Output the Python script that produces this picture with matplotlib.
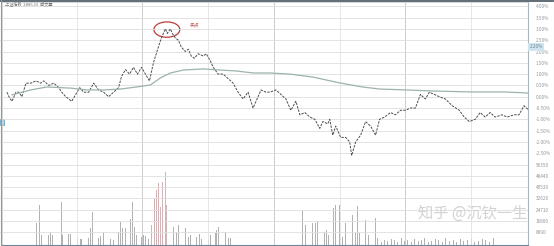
import matplotlib
matplotlib.use("Agg")
import matplotlib.pyplot as plt
import matplotlib.transforms as mtransforms
from matplotlib.patches import Ellipse, Rectangle
from matplotlib.lines import Line2D

plt.rcParams['font.family'] = ['Noto Sans CJK SC', 'DejaVu Sans']

# intraday price (dashed line)
t_price = [3, 5, 8, 12, 15, 18, 22, 27, 32, 37, 40, 45, 50, 55, 58, 62, 68, 72, 76, 80,
           85, 90, 95, 100, 105, 110, 115, 118, 122, 126, 130, 134, 138, 142, 146, 150, 155, 158, 162, 164,
           167, 169, 172, 175, 178, 182, 185, 188, 191, 195, 200, 203, 207, 210, 215, 220, 225, 230, 235, 240,
           245, 250, 255, 258, 263, 267, 273, 278, 283, 288, 293, 297, 302, 307, 312, 317, 320, 325, 327, 330,
           333, 338, 343, 347, 349, 353, 358, 363, 368, 373, 377, 382, 388, 393, 398, 403, 408, 413, 418, 423,
           427, 432, 437, 443, 450, 457, 462, 467, 473, 478, 483, 488, 493, 500, 505, 512, 517, 522, 527]
price = [10.02, 10.00, 9.98, 10.02, 10.02, 10.00, 10.06, 10.06, 10.07, 10.06, 10.07, 10.05, 10.06, 10.04, 10.02, 10.00, 9.98, 10.01, 10.04, 10.02,
         10.02, 10.06, 10.03, 10.02, 10.00, 10.02, 10.04, 10.09, 10.12, 10.10, 10.13, 10.10, 10.13, 10.10, 10.07, 10.15, 10.22, 10.26, 10.30, 10.28,
         10.30, 10.28, 10.26, 10.25, 10.22, 10.20, 10.21, 10.18, 10.17, 10.19, 10.18, 10.19, 10.16, 10.13, 10.10, 10.10, 10.08, 10.06, 10.02, 9.99,
         10.02, 9.95, 10.00, 10.03, 10.02, 10.02, 10.03, 10.01, 9.99, 9.94, 9.98, 9.92, 9.93, 9.91, 9.90, 9.86, 9.89, 9.88, 9.90, 9.83,
         9.87, 9.82, 9.82, 9.80, 9.74, 9.80, 9.83, 9.89, 9.87, 9.83, 9.90, 9.91, 9.93, 9.92, 9.94, 9.94, 9.95, 9.95, 10.01, 9.99,
         10.02, 10.01, 10.00, 9.99, 9.96, 9.94, 9.91, 9.89, 9.90, 9.93, 9.91, 9.93, 9.91, 9.92, 9.91, 9.92, 9.92, 9.96, 9.94]

# average price line
t_avg = [8, 27, 43, 67, 83, 100, 117, 133, 147, 157, 167, 180, 200, 217, 233, 250, 267, 287,
         310, 337, 360, 377, 403, 433, 470, 503, 527]
avg_price = [10.008, 10.030, 10.043, 10.038, 10.030, 10.030, 10.034, 10.043, 10.052, 10.083, 10.105, 10.118,
             10.123, 10.118, 10.114, 10.105, 10.105, 10.100, 10.087, 10.061, 10.043, 10.034, 10.030, 10.025,
             10.021, 10.021, 10.016]

# volume bars
t_vol = [4, 12, 13, 16, 23, 24, 27, 33, 36, 38, 45, 47, 49, 58, 59, 65, 67, 74, 77, 78,
         85, 87, 89, 95, 97, 100, 107, 110, 115, 117, 119, 122, 127, 129, 131, 133, 138, 140, 142, 145,
         148, 151, 153, 155, 157, 159, 162, 163, 170, 173, 175, 182, 185, 187, 193, 196, 198, 205, 207, 212,
         213, 215, 222, 225, 227, 233, 236, 238, 243, 247, 248, 255, 257, 259, 262, 267, 271, 277, 282, 288,
         292, 300, 303, 310, 313, 315, 322, 324, 326, 331, 333, 337, 340, 343, 350, 353, 355, 357, 363, 366,
         373, 375, 379, 382, 385, 389, 392, 395, 399, 402, 405, 409, 412, 416, 419, 422, 426, 429, 433, 436,
         440, 443, 447, 451, 454, 458, 461, 465, 469, 472, 476, 480, 483, 487, 491, 494, 498, 502, 505, 509,
         513, 516, 520, 524]
volume = [25900, 15400, 9100, 8400, 8400, 16100, 36400, 15400, 28000, 7000, 7000, 9100, 7000, 30100, 7000, 7700, 7700, 4900, 4200, 4200,
          4900, 11900, 23100, 4900, 6300, 9100, 4200, 3500, 9100, 16100, 11900, 11900, 18200, 30100, 12600, 7000, 5600, 7000, 6300, 4200,
          14000, 32900, 38500, 43400, 26600, 44100, 51100, 28000, 12600, 9100, 14000, 11900, 5600, 7000, 5600, 7700, 4200, 3500, 7000, 8400,
          10500, 12600, 9100, 4900, 4900, 9100, 14000, 14000, 11900, 9100, 19600, 4900, 11900, 5600, 2800, 4900, 11200, 7000, 9100, 8400,
          5600, 24500, 14000, 15400, 15400, 16100, 9100, 10500, 7000, 25900, 28000, 28000, 5600, 15400, 21000, 8400, 27300, 8400, 17500, 7000,
          18900, 4900, 2100, 3500, 2800, 4200, 3500, 2100, 4900, 2800, 3500, 2100, 4200, 2800, 3500, 4900, 2100, 2800, 4200, 3500,
          2100, 4900, 2800, 3500, 2100, 4200, 2800, 3500, 4900, 2100, 2800, 4200, 3500, 2100, 4900, 2800, 3500, 2100, 4200, 3500,
          2800, 4900, 2100, 3500]
up_bars = [148, 151, 153, 155, 157, 159, 162, 163]

# right-hand axis labels
grid_prices = [10.40, 10.35, 10.30, 10.25, 10.20, 10.15, 10.10, 10.05, 10.00, 9.95, 9.90, 9.85, 9.80, 9.75,
               9.70, 9.65, 9.60, 9.55, 9.50, 9.45, 9.40]
right_labels = ["4.00%", "3.50%", "3.00%", "2.50%", "2.00%", "1.50%", "1.00%", "0.50%", "0.00%", "-0.50%",
                "-1.00%", "-1.50%", "-2.00%", "-2.50%",
                "56350", "48440", "40530", "32620", "24710", "16800", "8890"]
half_hours = [73, 205, 337, 469]
hours = [139, 271, 403]

assert len(t_price) == len(price)
assert len(t_avg) == len(avg_price)
assert len(t_vol) == len(volume)

fig = plt.figure(figsize=(5.54, 2.46), dpi=100)
fig.patch.set_facecolor('white')
ax = fig.add_axes([2/554, 1/246, 526/554, 243/246])
ax2 = ax.twinx()
ax.set_zorder(2)
ax.patch.set_visible(False)

# volume
bar_colors = ['#d2b4b7' if t in up_bars else '#b2b2b2' for t in t_vol]
ax2.bar(t_vol, volume, width=0.75, color=bar_colors, linewidth=0)
ax2.set_ylim(0, 170100)
ax2.set_yticks([])
for s in ax2.spines.values():
    s.set_visible(False)

# price + average
ax.plot(t_price, price, color='#4d4d4d', lw=0.7, ls=(0, (2.5, 1.2)))
ax.plot(t_avg, avg_price, color='#9db3aa', lw=0.9)

ax.set_xlim(-2, 526)
ax.set_ylim(9.344, 10.419)
ax.set_yticks(grid_prices, labels=right_labels)
ax.tick_params(axis='y', left=True, right=False, labelleft=False, labelright=True,
               length=1.5, width=0.5, color='#b0b0b0', labelsize=3.4, labelcolor='#8c9aa3', pad=4)
ax.set_xticks(hours)
ax.set_xticks(half_hours, minor=True)
ax.tick_params(axis='x', which='both', bottom=False, labelbottom=False)
ax.grid(axis='y', color='#dedede', lw=0.6)
ax.grid(axis='x', which='major', color='#cdcdcd', lw=0.7)
ax.grid(axis='x', which='minor', color='#e3e3e3', lw=0.6)

for side in ['top', 'left']:
    ax.spines[side].set_color('#d0d0d0')
    ax.spines[side].set_linewidth(0.6)
ax.spines['right'].set_color('#aab6be')
ax.spines['right'].set_linewidth(0.8)
ax.spines['bottom'].set_color('#6f8797')
ax.spines['bottom'].set_linewidth(0.8)

# highlighted value on right axis
blend = mtransforms.blended_transform_factory(ax.transAxes, ax.transData)
ax.text(1.003, 10.220, "2.20%", transform=blend, fontsize=3.4, color='#6f8797', va='center', ha='left',
        bbox=dict(boxstyle='square,pad=0.3', fc='#cfe6ef', ec='none'), clip_on=False)

# red circle on the top
ax.add_patch(Ellipse((163.5, 10.297), 26, 0.068, fill=False, ec='#b8403a', lw=0.9))
ax.text(186, 10.317, "卖点", fontsize=3.5, color='#c25a55', va='center')

# left marker
fig.add_artist(Rectangle((0, (246-125)/246), 4/554, 6/246, transform=fig.transFigure,
                         fc='#aad3e6', ec='#5a9ec0', lw=0.5))

# small title top-left
fig.text(5/554, 1 - 4/246, "上证指数  2886.19  成交量", fontsize=3, color='#707070', va='center')

# watermark
fig.text(418/554, (246-213)/246, "知乎 @沉钦一生", fontsize=11, color='#d2d2d2', va='center', zorder=10)

# frame
fig.add_artist(Line2D([0, 1], [1 - 0.5/246, 1 - 0.5/246], transform=fig.transFigure, color='#45535f', lw=1.2))
fig.add_artist(Line2D([1 - 0.5/554, 1 - 0.5/554], [0, 1], transform=fig.transFigure, color='#c8c8c8', lw=0.8))
fig.add_artist(Line2D([0.5/554, 0.5/554], [0, 1], transform=fig.transFigure, color='#8a98a3', lw=0.8))

fig.savefig('out.png', dpi=100)
